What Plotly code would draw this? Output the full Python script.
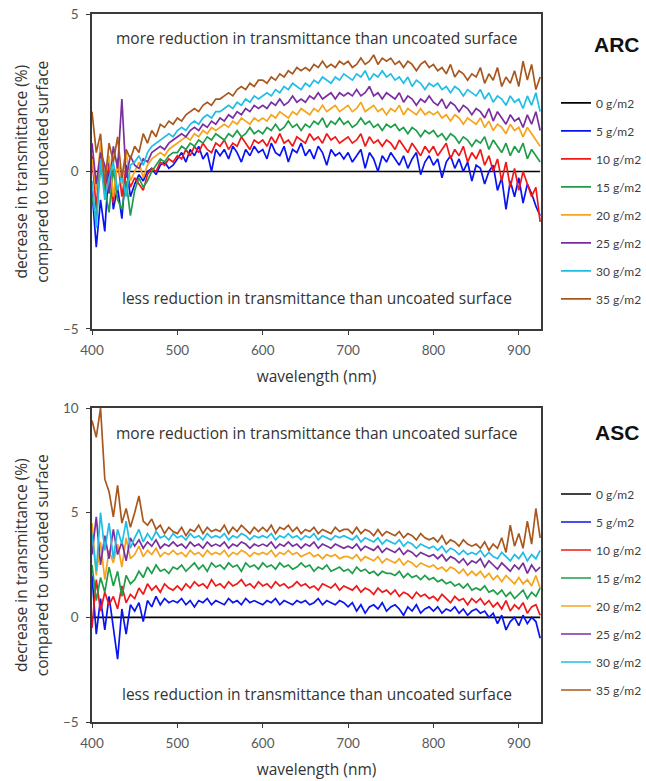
import plotly.graph_objects as go

# wavelength grid (nm), 5 nm steps from 400 to 925
WAVELENGTH = list(range(400, 930, 5))

LOADINGS = ["0 g/m2", "5 g/m2", "10 g/m2", "15 g/m2", "20 g/m2", "25 g/m2", "30 g/m2", "35 g/m2"]
COLORS = ["#000000", "#0a14f0", "#f01818", "#1e9e4a", "#f7a41d", "#7a2fa0", "#20bde6", "#a8581e"]

# uncoated reference: no change in transmittance
ZERO = [0.0] * len(WAVELENGTH)

# ---- ARC: decrease in transmittance (%) ----
ARC_5 = [
    -0.6, -2.4, -0.9, -1.9, 0.3, -1.2, -0.5, -1.5, 0.2, -0.8,
    -0.4, -0.1, -0.3, 0.0, 0.1, -0.1, 0.2, 0.3, 0.1, 0.2,
    0.4, 0.6, 0.3, 0.7, 0.5, 0.8, 0.4, 0.6, 0.0, 0.7,
    0.5, 0.7, 0.4, 0.8, 0.6, 0.3, 0.7, 0.5, 0.8, 0.6,
    0.7, 0.4, 0.9, 0.6, 0.5, 0.8, 0.3, 0.7, 0.6, 0.9,
    0.5, 0.7, 0.4, 0.8, 0.6, 0.2, 0.7, 0.5, 0.6, 0.4,
    0.6, 0.3, 0.5, 0.7, 0.1, 0.6, 0.4, 0.0, 0.5, 0.3,
    0.6, 0.4, 0.2, 0.5, 0.1, 0.4, 0.6, -0.1, 0.3, 0.5,
    0.2, 0.4, -0.2, 0.3, 0.5, 0.1, 0.4, 0.0, 0.3, -0.3,
    0.2, 0.1, -0.4, 0.0, 0.2, -0.6, -0.2, -1.2, -0.3, -0.8,
    -0.2, -1.0, -0.4, -0.7, -1.1, -1.4,
]
ARC_10 = [
    0.5, -1.2, 0.8, -0.6, 0.2, -1.0, 0.4, -0.8, 0.1, -0.5,
    -0.2, -0.4, -0.6, -0.1, 0.1, 0.0, 0.3, 0.2, 0.4, 0.3,
    0.5, 0.4, 0.7, 0.5, 0.8, 0.6, 0.9, 0.7, 0.6, 0.9,
    0.8, 1.0, 0.7, 0.9, 0.8, 1.1, 0.9, 0.7, 1.0, 0.9,
    1.0, 0.8, 1.1, 0.9, 1.2, 0.9, 1.0, 0.8, 1.1, 1.0,
    0.9, 1.2, 1.0, 1.1, 0.9, 1.2, 1.0, 1.1, 0.9, 1.0,
    1.1, 0.9, 1.0, 1.2, 0.8, 1.1, 0.9, 1.0, 0.8, 1.0,
    0.9, 0.7, 1.0, 0.8, 0.6, 0.9, 0.7, 0.5, 0.8, 0.6,
    0.8, 0.5, 0.7, 0.9, 0.4, 0.7, 0.5, 0.8, 0.3, 0.6,
    0.4, 0.7, 0.2, 0.5, 0.0, 0.4, -0.3, 0.3, -0.5, 0.1,
    -0.6, 0.0, -0.4, -0.8, -0.5, -1.6,
]
ARC_15 = [
    -0.8, -1.5, 0.2, -0.6, -1.3, 0.1, -0.9, -1.2, -0.3, -1.4,
    -0.6, -0.2, -0.5, -0.3, 0.0, 0.2, 0.4, 0.3, 0.5, 0.6,
    0.6, 0.8, 0.7, 0.9, 0.8, 1.0, 0.9, 1.1, 1.0, 1.2,
    1.1, 1.0, 1.2, 1.1, 1.3, 1.1, 1.2, 1.4, 1.2, 1.3,
    1.2, 1.4, 1.3, 1.5, 1.3, 1.4, 1.6, 1.4, 1.5, 1.3,
    1.5, 1.4, 1.6, 1.5, 1.7, 1.4, 1.6, 1.5, 1.7, 1.5,
    1.6, 1.4, 1.5, 1.7, 1.5, 1.6, 1.4, 1.5, 1.3, 1.5,
    1.4, 1.5, 1.3, 1.4, 1.2, 1.4, 1.3, 1.1, 1.3, 1.2,
    1.3, 1.1, 1.2, 1.0, 1.2, 1.1, 0.9, 1.1, 1.0, 0.8,
    1.0, 0.9, 1.1, 0.7, 1.0, 0.8, 0.6, 0.9, 0.5, 0.8,
    0.6, 0.9, 0.4, 0.7, 0.5, 0.3,
]
ARC_20 = [
    0.4, -0.6, 0.9, -0.2, 0.5, -0.8, 0.3, -0.4, 0.6, -0.3,
    0.0, 0.3, -0.2, 0.2, 0.4, 0.5, 0.6, 0.5, 0.7, 0.8,
    0.9, 1.0, 1.1, 1.0, 1.2, 1.1, 1.3, 1.2, 1.4, 1.3,
    1.4, 1.5, 1.4, 1.6, 1.5, 1.7, 1.6, 1.5, 1.7, 1.6,
    1.7, 1.6, 1.8, 1.7, 1.9, 1.8, 1.7, 1.9, 1.8, 2.0,
    1.9, 1.8, 2.0, 1.9, 2.1, 1.9, 2.0, 2.1, 1.9, 2.0,
    2.1, 1.9, 2.0, 2.2, 1.9, 2.0, 2.1, 1.9, 2.0, 1.8,
    2.0, 1.9, 2.1, 1.8, 2.0, 1.9, 1.8, 2.0, 1.8, 1.9,
    1.8, 1.9, 1.7, 1.8, 1.6, 1.8, 1.7, 1.5, 1.7, 1.6,
    1.5, 1.7, 1.4, 1.6, 1.3, 1.5, 1.4, 1.2, 1.5, 1.3,
    1.4, 1.1, 1.4, 1.2, 1.0, 0.8,
]
ARC_25 = [
    0.9, -0.4, 0.6, 0.2, -0.7, 0.8, 0.1, 2.3, -0.2, 0.5,
    0.2, 0.1, 0.4, 0.3, 0.6, 0.7, 0.8, 0.7, 0.9, 1.0,
    1.1, 1.2, 1.1, 1.3, 1.4, 1.3, 1.5, 1.4, 1.6, 1.5,
    1.7, 1.6, 1.8, 1.7, 1.9, 1.8, 2.0, 1.9, 2.1, 2.0,
    2.1, 2.0, 2.2, 2.1, 2.3, 2.1, 2.2, 2.4, 2.2, 2.3,
    2.2, 2.4, 2.3, 2.5, 2.3, 2.4, 2.5, 2.3, 2.5, 2.4,
    2.5, 2.4, 2.6, 2.4, 2.5, 2.7, 2.4, 2.5, 2.3, 2.5,
    2.4, 2.3, 2.5, 2.2, 2.4, 2.3, 2.1, 2.3, 2.2, 2.4,
    2.2, 2.1, 2.3, 2.0, 2.2, 2.1, 1.9, 2.1, 2.0, 1.8,
    2.0, 1.9, 1.7, 2.0, 1.6, 1.9, 1.7, 1.5, 1.8, 1.6,
    1.7, 1.4, 1.8, 1.5, 1.9, 1.3,
]
ARC_30 = [
    -0.3, -1.8, 0.4, -0.9, -0.2, 0.3, -0.6, -0.1, -0.8, 0.2,
    0.3, 0.5, 0.2, 0.6, 0.8, 0.9, 1.0, 1.1, 1.2, 1.1,
    1.3, 1.4, 1.3, 1.5, 1.6, 1.5, 1.7, 1.8, 1.7, 1.9,
    1.9, 2.0, 2.1, 2.0, 2.2, 2.1, 2.3, 2.2, 2.4, 2.3,
    2.4, 2.5, 2.4, 2.6, 2.5, 2.7, 2.6, 2.8, 2.7, 2.6,
    2.8, 2.7, 2.9, 2.8, 3.0, 2.9, 2.8, 3.0, 2.9, 3.1,
    3.0, 2.9, 3.1, 3.0, 3.2, 2.9, 3.1, 3.0, 3.2, 3.0,
    3.1, 2.9, 3.0, 2.8, 3.0, 2.7, 2.9, 2.8, 2.6, 2.8,
    2.7, 2.8, 2.6, 2.7, 2.5, 2.7, 2.6, 2.4, 2.6, 2.5,
    2.4, 2.6, 2.3, 2.5, 2.2, 2.4, 2.3, 2.1, 2.4, 2.2,
    2.3, 2.0, 2.4, 2.1, 2.5, 1.9,
]
ARC_35 = [
    1.9, 0.6, 1.2, -0.4, 0.9, 0.3, 1.1, -0.2, 0.7, 0.4,
    0.8, 0.6, 1.2, 0.9, 1.3, 1.1, 1.5, 1.4, 1.6, 1.5,
    1.7, 1.6, 1.8, 1.9, 2.0, 1.9, 2.1, 2.2, 2.1, 2.3,
    2.3, 2.4, 2.5, 2.4, 2.6, 2.7, 2.6, 2.8, 2.7, 2.9,
    2.9, 2.8, 3.0, 2.9, 3.1, 3.0, 3.2, 3.1, 3.3, 3.2,
    3.3, 3.2, 3.4, 3.3, 3.5, 3.3, 3.4, 3.3, 3.5, 3.4,
    3.5, 3.3, 3.4, 3.6, 3.4, 3.5, 3.7, 3.4, 3.6, 3.5,
    3.6, 3.4, 3.5, 3.3, 3.5, 3.4, 3.2, 3.4, 3.5, 3.3,
    3.4, 3.2, 3.3, 3.1, 3.4, 3.0, 3.2, 3.1, 2.9, 3.1,
    3.0, 3.3, 2.8, 3.1, 2.9, 3.3, 2.7, 3.0, 2.8, 3.2,
    2.7, 3.5, 2.9, 3.4, 2.6, 3.0,
]

# ---- ASC: decrease in transmittance (%) ----
ASC_5 = [
    2.0, -0.8, 0.9, -0.6, 1.0, -0.5, -2.0, 0.4, -0.8, 0.6,
    0.3, 0.7, -0.2, 0.8, 0.5, 1.0, 0.6, 0.9, 0.7, 0.8,
    0.7, 0.9, 0.6, 0.8, 0.5, 0.8, 0.7, 0.9, 0.6, 0.8,
    0.7, 0.6, 0.9, 0.7, 0.8, 0.6, 0.9, 0.7, 0.8, 0.7,
    0.6, 0.8, 0.7, 0.9, 0.6, 0.8, 0.7, 0.6, 0.8, 0.7,
    0.8, 0.6, 0.7, 0.9, 0.6, 0.8, 0.7, 0.6, 0.8, 0.7,
    0.5, 0.7, 0.3, 0.6, 0.2, 0.5, 0.6, 0.4, 0.7, 0.3,
    0.5, 0.6, 0.4, 0.1, 0.5, 0.3, 0.6, 0.2, 0.4, 0.5,
    0.3, 0.5, 0.2, 0.4, 0.3, 0.5, 0.2, 0.4, 0.1, 0.3,
    0.4, 0.2, 0.3, 0.0, 0.2, -0.3, 0.1, -0.6, -0.2, 0.0,
    -0.4, 0.1, -0.3, 0.0, -0.2, -1.0,
]
ASC_10 = [
    -0.5, 1.8, 0.3, 1.2, 0.6, 1.0, 0.4, 1.5, 0.7, 1.1,
    0.9, 1.4, 1.1, 1.6, 1.3, 1.5, 1.2, 1.6, 1.4, 1.3,
    1.5, 1.3, 1.6, 1.4, 1.7, 1.5, 1.6, 1.4, 1.8, 1.5,
    1.6, 1.4, 1.7, 1.5, 1.6, 1.8, 1.5, 1.6, 1.4, 1.7,
    1.5, 1.6, 1.4, 1.7, 1.5, 1.6, 1.4, 1.5, 1.7, 1.5,
    1.6, 1.4, 1.5, 1.3, 1.6, 1.5, 1.4, 1.6, 1.3, 1.5,
    1.4, 1.3, 1.5, 1.2, 1.4, 1.3, 1.1, 1.4, 1.2, 1.3,
    1.1, 1.3, 1.0, 1.2, 1.1, 0.9, 1.2, 1.0, 1.1, 0.9,
    1.0, 0.8, 1.1, 0.9, 0.7, 1.0, 0.8, 0.9, 0.6, 0.9,
    0.7, 0.9, 0.6, 0.8, 0.5, 0.7, 0.4, 0.8, 0.3, 0.6,
    0.4, 0.7, 0.2, 0.5, 0.6, 0.1,
]
ASC_15 = [
    2.5, 0.8, 1.9, 1.2, 2.4, 1.5, 2.2, 1.0, 2.0, 1.6,
    1.8, 2.2, 1.9, 2.4, 2.1, 2.5, 2.2, 2.3, 2.1, 2.4,
    2.3, 2.5, 2.2, 2.4, 2.6, 2.3, 2.5, 2.2, 2.6, 2.4,
    2.5, 2.3, 2.6, 2.4, 2.5, 2.2, 2.6, 2.4, 2.5, 2.3,
    2.6, 2.4, 2.5, 2.3, 2.6, 2.4, 2.5, 2.3, 2.4, 2.6,
    2.4, 2.5, 2.2, 2.4, 2.3, 2.5, 2.2, 2.3, 2.4, 2.2,
    2.3, 2.1, 2.4, 2.2, 2.3, 2.1, 2.2, 2.0, 2.2, 2.1,
    2.1, 2.0, 2.2, 1.9, 2.1, 1.9, 2.0, 1.8, 2.0, 1.8,
    1.9, 1.7, 1.8, 1.6, 1.7, 1.5, 1.6, 1.4, 1.6, 1.3,
    1.4, 1.3, 1.5, 1.2, 1.3, 1.1, 1.3, 1.0, 1.2, 0.9,
    1.1, 1.3, 0.9, 1.2, 1.0, 1.4,
]
ASC_20 = [
    4.5, 2.0, 3.6, 1.8, 3.2, 2.6, 3.5, 2.4, 3.8, 2.8,
    3.0, 3.4, 2.9, 3.2, 3.0, 3.3, 2.9, 3.1, 3.0, 3.2,
    3.0, 3.1, 2.9, 3.2, 3.0, 3.1, 2.9, 3.2, 3.0, 3.1,
    3.0, 3.2, 2.9, 3.1, 3.0, 3.2, 3.1, 2.9, 3.1, 3.0,
    3.1, 3.0, 3.2, 2.9, 3.1, 3.0, 3.2, 3.0, 3.1, 2.9,
    3.0, 3.1, 2.9, 3.0, 2.8, 3.0, 2.9, 3.0, 2.8, 2.9,
    2.9, 2.8, 3.0, 2.7, 2.9, 2.8, 2.7, 2.9, 2.6, 2.8,
    2.7, 2.6, 2.8, 2.5, 2.7, 2.6, 2.4, 2.6, 2.5, 2.4,
    2.5, 2.3, 2.4, 2.2, 2.4, 2.3, 2.1, 2.3, 2.0, 2.2,
    2.0, 2.2, 1.9, 2.1, 1.8, 2.0, 1.7, 2.0, 1.8, 1.6,
    1.9, 1.6, 1.8, 1.5, 2.0, 1.4,
]
ASC_25 = [
    3.0, 4.8, 2.5, 3.9, 2.8, 4.2, 3.0, 3.6, 2.7, 3.8,
    3.4, 3.7, 3.3, 3.6, 3.4, 3.7, 3.3, 3.5, 3.4, 3.6,
    3.4, 3.5, 3.3, 3.6, 3.4, 3.5, 3.3, 3.6, 3.4, 3.5,
    3.4, 3.6, 3.3, 3.5, 3.4, 3.6, 3.5, 3.3, 3.5, 3.4,
    3.5, 3.4, 3.6, 3.3, 3.5, 3.4, 3.6, 3.4, 3.5, 3.3,
    3.5, 3.4, 3.6, 3.3, 3.5, 3.4, 3.3, 3.5, 3.4, 3.3,
    3.4, 3.3, 3.5, 3.2, 3.4, 3.3, 3.2, 3.4, 3.1, 3.3,
    3.2, 3.1, 3.3, 3.0, 3.2, 3.1, 2.9, 3.1, 3.0, 2.9,
    3.0, 2.8, 3.0, 2.7, 2.9, 2.8, 2.6, 2.8, 2.5, 2.7,
    2.6, 2.8, 2.4, 2.7, 2.5, 2.3, 2.6, 2.4, 2.2, 2.5,
    2.3, 2.6, 2.1, 2.5, 2.2, 2.4,
]
ASC_30 = [
    4.0, 2.2, 5.0, 3.2, 4.5, 2.8, 4.2, 3.5, 4.6, 3.3,
    3.8, 4.2, 3.6, 4.0, 3.7, 4.1, 3.8, 3.9, 3.7, 4.0,
    3.8, 3.9, 3.7, 4.0, 3.8, 3.9, 3.7, 4.0, 3.8, 3.9,
    3.8, 4.0, 3.7, 3.9, 3.8, 4.0, 3.9, 3.7, 3.9, 3.8,
    3.9, 3.8, 4.0, 3.7, 3.9, 3.8, 4.0, 3.8, 3.9, 3.7,
    3.9, 3.8, 4.0, 3.7, 3.9, 3.8, 3.7, 3.9, 3.8, 3.9,
    3.8, 3.7, 3.9, 3.6, 3.8, 3.7, 3.6, 3.8, 3.5, 3.7,
    3.6, 3.5, 3.7, 3.4, 3.6, 3.5, 3.3, 3.5, 3.4, 3.3,
    3.4, 3.2, 3.4, 3.1, 3.3, 3.2, 3.0, 3.2, 3.0, 3.1,
    3.0, 3.2, 2.9, 3.1, 2.9, 2.8, 3.1, 2.9, 2.7, 3.0,
    2.8, 3.1, 2.7, 3.0, 2.8, 3.2,
]
ASC_35 = [
    9.4, 8.6, 10.0, 6.6, 6.0, 4.8, 6.3, 4.5, 5.2, 4.3,
    5.0, 5.8, 4.6, 4.4, 4.7, 4.2, 4.4, 4.0, 4.3, 4.1,
    4.0, 4.3, 3.9, 4.2, 4.1, 4.4, 4.0, 4.3, 4.1, 4.2,
    4.1, 4.4, 4.0, 4.3, 4.1, 4.4, 4.2, 4.0, 4.3, 4.1,
    4.3, 4.1, 4.4, 4.0, 4.3, 4.2, 4.4, 4.1, 4.3, 4.0,
    4.2, 4.1, 4.3, 4.0, 4.2, 4.1, 4.0, 4.3, 4.1, 4.2,
    4.2, 4.0, 4.3, 4.0, 4.2, 4.1, 3.9, 4.2, 3.9, 4.1,
    4.0, 3.9, 4.1, 3.8, 4.0, 3.9, 3.7, 4.0, 3.8, 3.7,
    3.8, 3.6, 3.9, 3.5, 3.7, 3.6, 3.4, 3.7, 3.5, 3.4,
    3.5, 3.3, 3.6, 3.2, 3.5, 3.3, 3.8, 3.1, 4.4, 3.4,
    4.0, 3.3, 4.6, 3.5, 5.2, 3.8,
]

ARC_SERIES = [ZERO, ARC_5, ARC_10, ARC_15, ARC_20, ARC_25, ARC_30, ARC_35]
ASC_SERIES = [ZERO, ASC_5, ASC_10, ASC_15, ASC_20, ASC_25, ASC_30, ASC_35]

X_TICKS = [400, 500, 600, 700, 800, 900]
ARC_Y_TICKS = [-5, 0, 5]
ASC_Y_TICKS = [-5, 0, 5, 10]

TEXT_FONT = "Open Sans, DejaVu Sans, sans-serif"
TICK_FONT = "Lato, Liberation Sans, sans-serif"
TEXT_COLOR = "#333333"

fig = go.Figure()

panels = [
    ("ARC", ARC_SERIES, "x", "y", "legend"),
    ("ASC", ASC_SERIES, "x2", "y2", "legend2"),
]
for panel, series, xa, ya, leg in panels:
    for name, color, values in zip(LOADINGS, COLORS, series):
        fig.add_trace(go.Scatter(
            x=WAVELENGTH, y=values, mode="lines", name=name,
            line=dict(color=color, width=1.7),
            xaxis=xa, yaxis=ya, legend=leg,
            legendgroup=f"{panel}-{name}",
        ))

axis_common = dict(
    showgrid=False, zeroline=False, showline=True, mirror=True,
    linecolor="#3a3a3a", linewidth=1.5,
    ticks="outside", ticklen=4, tickwidth=1.2, tickcolor="#3a3a3a",
    tickfont=dict(family=TICK_FONT, size=13.5, color="#595959"),
)
x_title = dict(text="wavelength (nm)", standoff=14,
               font=dict(family=TEXT_FONT, size=15.5, color=TEXT_COLOR))

fig.update_layout(
    width=646, height=781,
    margin=dict(l=92, r=105, t=14, b=59, autoexpand=False),
    paper_bgcolor="white", plot_bgcolor="white",
    showlegend=True,
    xaxis=dict(domain=[0, 1], range=[400, 926], tickvals=X_TICKS, anchor="y",
               ticklabelstandoff=4, title=x_title, **axis_common),
    yaxis=dict(domain=[0.5551, 1.0], range=[-5, 5], tickvals=ARC_Y_TICKS, anchor="x",
               ticklabelstandoff=5, **axis_common),
    xaxis2=dict(domain=[0, 1], range=[400, 926], tickvals=X_TICKS, anchor="y2",
                ticklabelstandoff=4, title=x_title, **axis_common),
    yaxis2=dict(domain=[0.0, 0.4435], range=[-5, 10], tickvals=ASC_Y_TICKS, anchor="x2",
                ticklabelstandoff=5, **axis_common),
)

legend_common = dict(
    xanchor="left", yanchor="top", x=1.0334,
    font=dict(family=TICK_FONT, size=12, color="#404040"),
    bgcolor="rgba(0,0,0,0)", borderwidth=0,
    tracegroupgap=9, itemwidth=30, traceorder="grouped",
)
fig.update_layout(
    legend=dict(y=0.895, **legend_common),
    legend2=dict(y=0.3425, **legend_common),
)

note_font = dict(family=TEXT_FONT, size=15.5, color=TEXT_COLOR)
annotations = [
    dict(text="more reduction in transmittance than uncoated surface",
         xref="x", yref="y", x=663, y=4.24),
    dict(text="less reduction in transmittance than uncoated surface",
         xref="x", yref="y", x=663, y=-4.02),
    dict(text="more reduction in transmittance than uncoated surface",
         xref="x2", yref="y2", x=663, y=8.8),
    dict(text="less reduction in transmittance than uncoated surface",
         xref="x2", yref="y2", x=663, y=-3.66),
]
for a in annotations:
    fig.add_annotation(showarrow=False, font=note_font,
                       xanchor="center", yanchor="middle", **a)

# panel labels
for label, ypos in [("ARC", 0.9576), ("ASC", 0.4096)]:
    fig.add_annotation(text=f"<b>{label}</b>", xref="paper", yref="paper",
                       x=1.169, y=ypos, showarrow=False,
                       xanchor="center", yanchor="middle",
                       font=dict(family="Liberation Sans, Arial, sans-serif", size=21, color="#111111"))

# two-line vertical axis titles
for ypos in [(0.5551 + 1.0) / 2, 0.4435 / 2]:
    for line_text, xpos in [("decrease in transmittance (%)", -0.158),
                            ("compared to uncoated surface", -0.111)]:
        fig.add_annotation(text=line_text, xref="paper", yref="paper",
                           x=xpos, y=ypos, textangle=-90, showarrow=False,
                           xanchor="center", yanchor="middle",
                           font=dict(family=TEXT_FONT, size=15.5, color=TEXT_COLOR))

fig.write_html("out.html")
